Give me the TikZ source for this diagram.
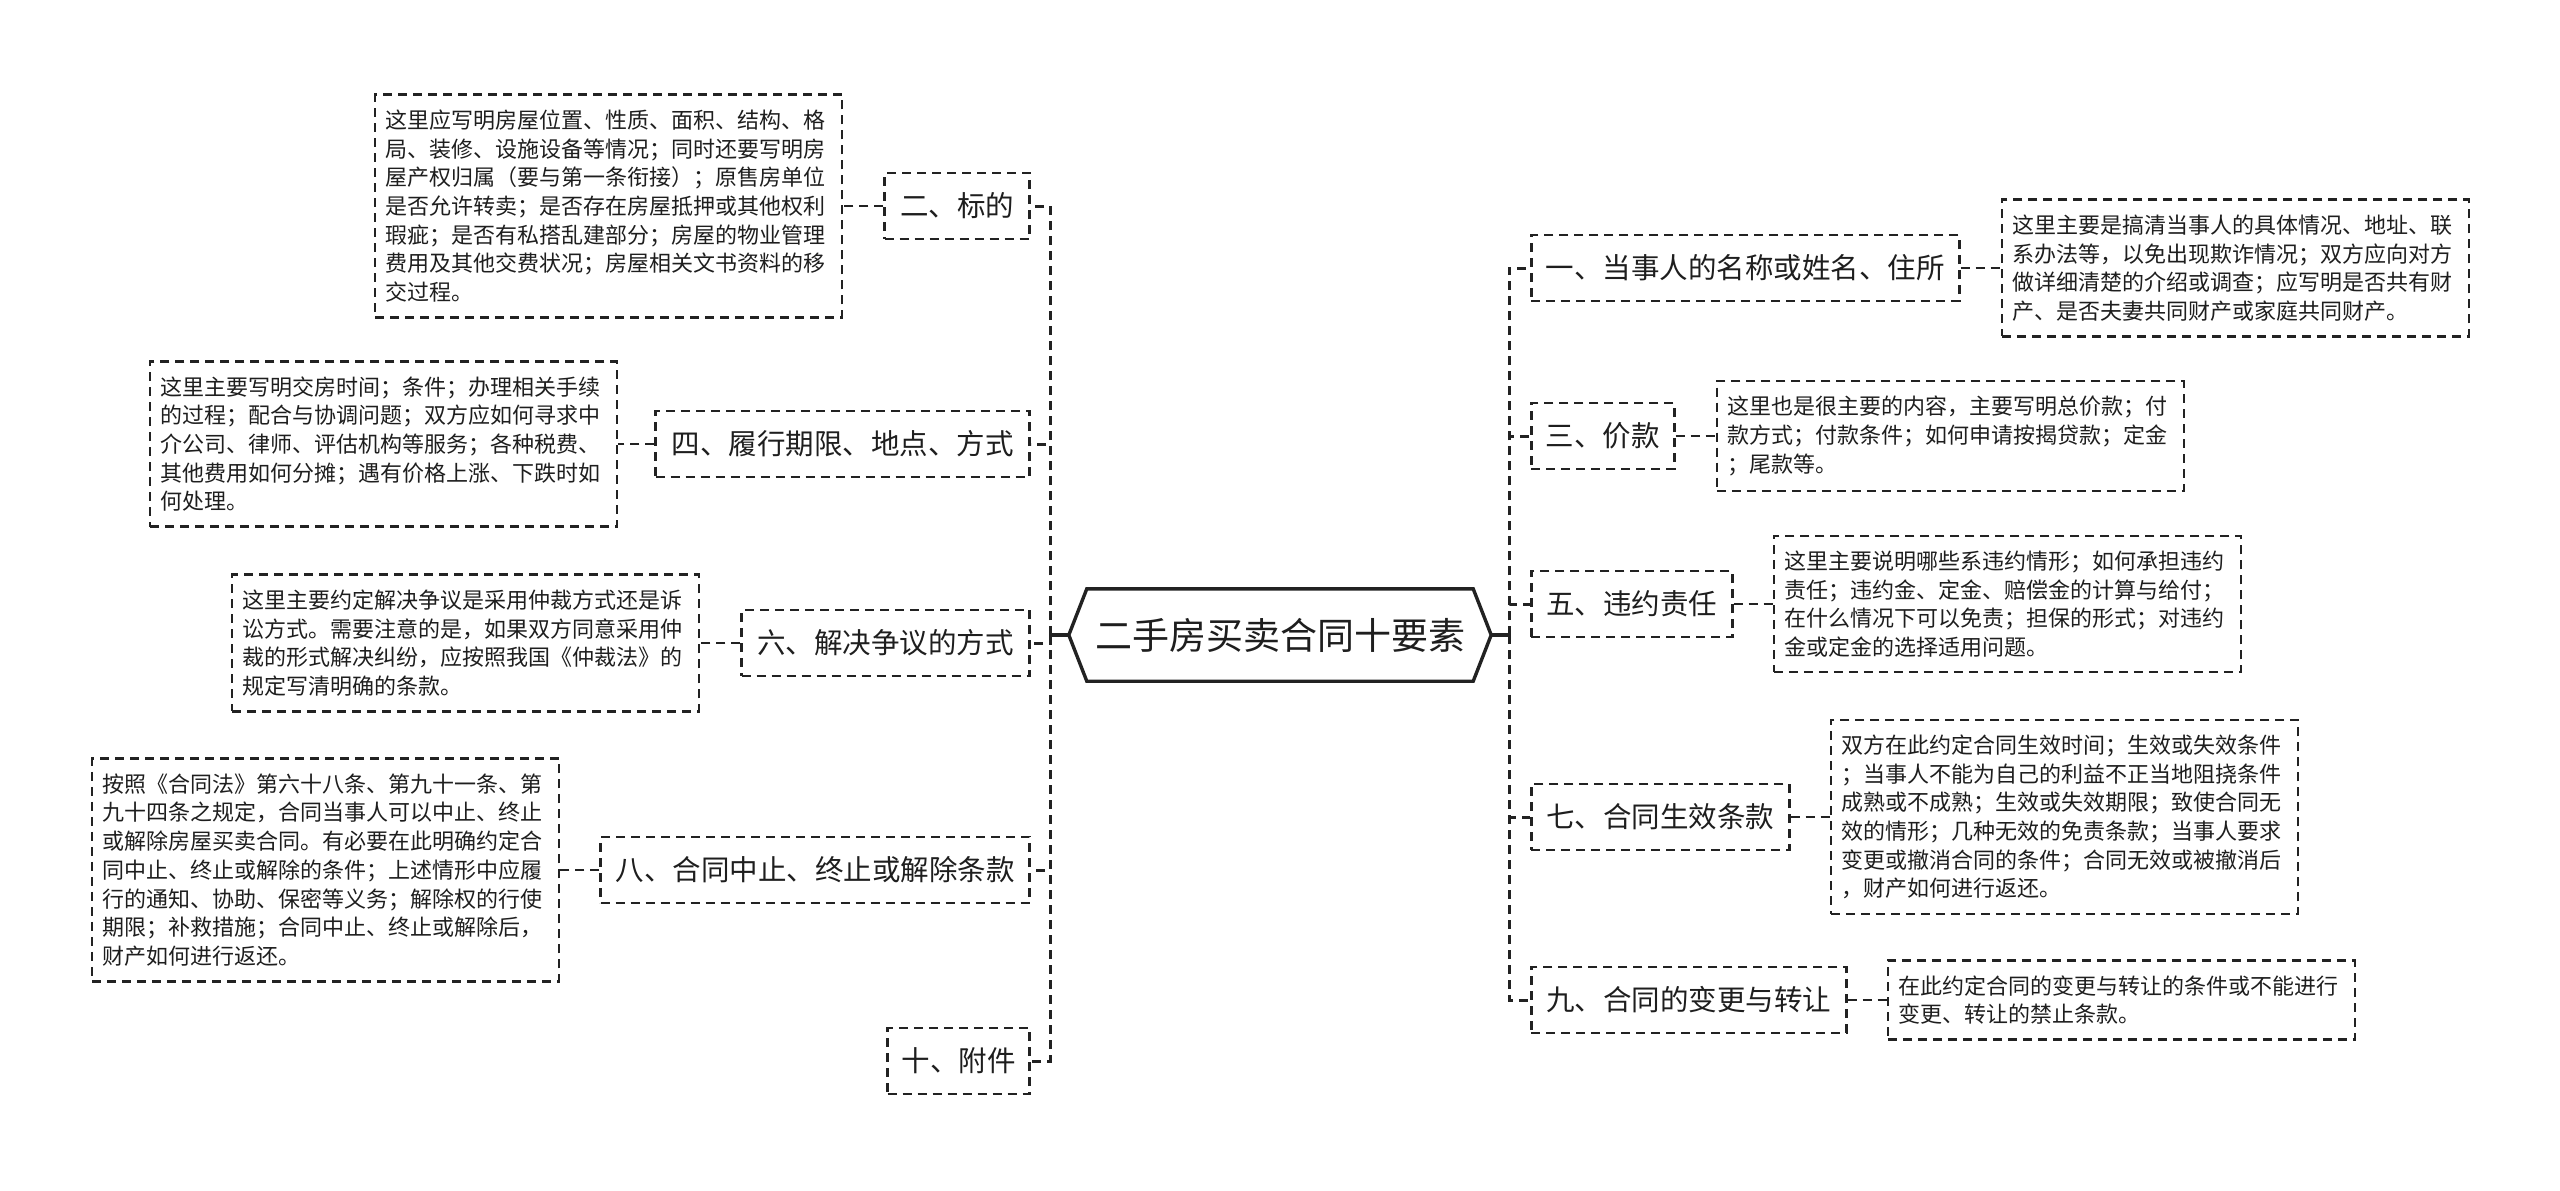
\documentclass[tikz,border=0pt]{standalone}
\usepackage{fontspec}
\setmainfont{Noto Sans CJK SC}
\usetikzlibrary{positioning}
\definecolor{linec}{HTML}{222222}
\definecolor{txt}{HTML}{1E1E1E}
\begin{document}
\begin{tikzpicture}[x=1pt,y=-1pt,
  dashline/.style={draw=linec, dash pattern=on 9pt off 6pt, line width=2.6pt},
  branch/.style={dashline, text=txt, font=\fontsize{28.5}{34}\selectfont, minimum height=66pt, inner xsep=8pt, inner ysep=0pt},
  desc/.style={dashline, line width=2.4pt, text=txt, font=\fontsize{22}{28.7}\selectfont, text width=446pt, inner xsep=10.5pt, inner ysep=15pt, align=left},
  trunk/.style={draw=linec, dash pattern=on 9pt off 6pt, line width=3pt},
  stub/.style={draw=linec, line width=3.2pt},
  rootbox/.style={text=txt, font=\fontsize{37}{44}\selectfont, minimum width=422pt, minimum height=92pt, inner sep=0pt},
  hexline/.style={draw=linec, line width=3.4pt, line join=miter}
]
\useasboundingbox (0,0) rectangle (2560,1191);

% root
\node[rootbox] (root) at (1280,635) {二手房买卖合同十要素};
\draw[hexline] (root.west) -- ([xshift=18pt]root.north west) -- ([xshift=-18pt]root.north east) -- (root.east) -- ([xshift=-18pt]root.south east) -- ([xshift=18pt]root.south west) -- cycle;

\coordinate (lj) at (1050,635);
\coordinate (rj) at (1509,635);

% left branches
\node[branch, minimum width=145pt, anchor=east] (b2) at (1031,206) {二、标的};
\node[branch, minimum width=374pt, anchor=east] (b4) at (1031,444) {四、履行期限、地点、方式};
\node[branch, minimum width=288pt, anchor=east] (b6) at (1031,643) {六、解决争议的方式};
\node[branch, minimum width=429pt, anchor=east] (b8) at (1031,870) {八、合同中止、终止或解除条款};
\node[branch, minimum width=142pt, anchor=east] (b10) at (1031,1061) {十、附件};

% right branches
\node[branch, minimum width=428pt, anchor=west] (b1) at (1530,268) {一、当事人的名称或姓名、住所};
\node[branch, minimum width=143pt, anchor=west] (b3) at (1530,436) {三、价款};
\node[branch, minimum width=201pt, anchor=west] (b5) at (1530,604) {五、违约责任};
\node[branch, minimum width=258pt, anchor=west] (b7) at (1530,817) {七、合同生效条款};
\node[branch, minimum width=315pt, anchor=west] (b9) at (1530,1000) {九、合同的变更与转让};

% descriptions
\node[desc, left=40pt of b2] (d2) {这里应写明房屋位置、性质、面积、结构、格\\局、装修、设施设备等情况；同时还要写明房\\屋产权归属（要与第一条衔接）；原售房单位\\是否允许转卖；是否存在房屋抵押或其他权利\\瑕疵；是否有私搭乱建部分；房屋的物业管理\\费用及其他交费状况；房屋相关文书资料的移\\交过程。};
\node[desc, left=36pt of b4] (d4) {这里主要写明交房时间；条件；办理相关手续\\的过程；配合与协调问题；双方应如何寻求中\\介公司、律师、评估机构等服务；各种税费、\\其他费用如何分摊；遇有价格上涨、下跌时如\\何处理。};
\node[desc, left=40pt of b6] (d6) {这里主要约定解决争议是采用仲裁方式还是诉\\讼方式。需要注意的是，如果双方同意采用仲\\裁的形式解决纠纷，应按照我国《仲裁法》的\\规定写清明确的条款。};
\node[desc, left=39pt of b8] (d8) {按照《合同法》第六十八条、第九十一条、第\\九十四条之规定，合同当事人可以中止、终止\\或解除房屋买卖合同。有必要在此明确约定合\\同中止、终止或解除的条件；上述情形中应履\\行的通知、协助、保密等义务；解除权的行使\\期限；补救措施；合同中止、终止或解除后，\\财产如何进行返还。};

\node[desc, right=40pt of b1] (d1) {这里主要是搞清当事人的具体情况、地址、联\\系办法等，以免出现欺诈情况；双方应向对方\\做详细清楚的介绍或调查；应写明是否共有财\\产、是否夫妻共同财产或家庭共同财产。};
\node[desc, right=40pt of b3] (d3) {这里也是很主要的内容，主要写明总价款；付\\款方式；付款条件；如何申请按揭贷款；定金\\；尾款等。};
\node[desc, right=39pt of b5] (d5) {这里主要说明哪些系违约情形；如何承担违约\\责任；违约金、定金、赔偿金的计算与给付；\\在什么情况下可以免责；担保的形式；对违约\\金或定金的选择适用问题。};
\node[desc, right=39pt of b7] (d7) {双方在此约定合同生效时间；生效或失效条件\\；当事人不能为自己的利益不正当地阻挠条件\\成熟或不成熟；生效或失效期限；致使合同无\\效的情形；几种无效的免责条款；当事人要求\\变更或撤消合同的条件；合同无效或被撤消后\\，财产如何进行返还。};
\node[desc, right=39pt of b9] (d9) {在此约定合同的变更与转让的条件或不能进行\\变更、转让的禁止条款。};

% connectors root -> trunk
\draw[stub] (root.west) -- (lj);
\draw[stub] (root.east) -- (rj);
\foreach \b in {b2,b4,b6,b8,b10} \draw[trunk] (lj) |- (\b.east);
\foreach \b in {b1,b3,b5,b7,b9} \draw[trunk] (rj) |- (\b.west);

% branch -> description
\foreach \b/\d in {b2/d2,b4/d4,b6/d6,b8/d8} \draw[dashline] (\b.west) -- (\d.east);
\foreach \b/\d in {b1/d1,b3/d3,b5/d5,b7/d7,b9/d9} \draw[dashline] (\b.east) -- (\d.west);
\end{tikzpicture}
\end{document}
